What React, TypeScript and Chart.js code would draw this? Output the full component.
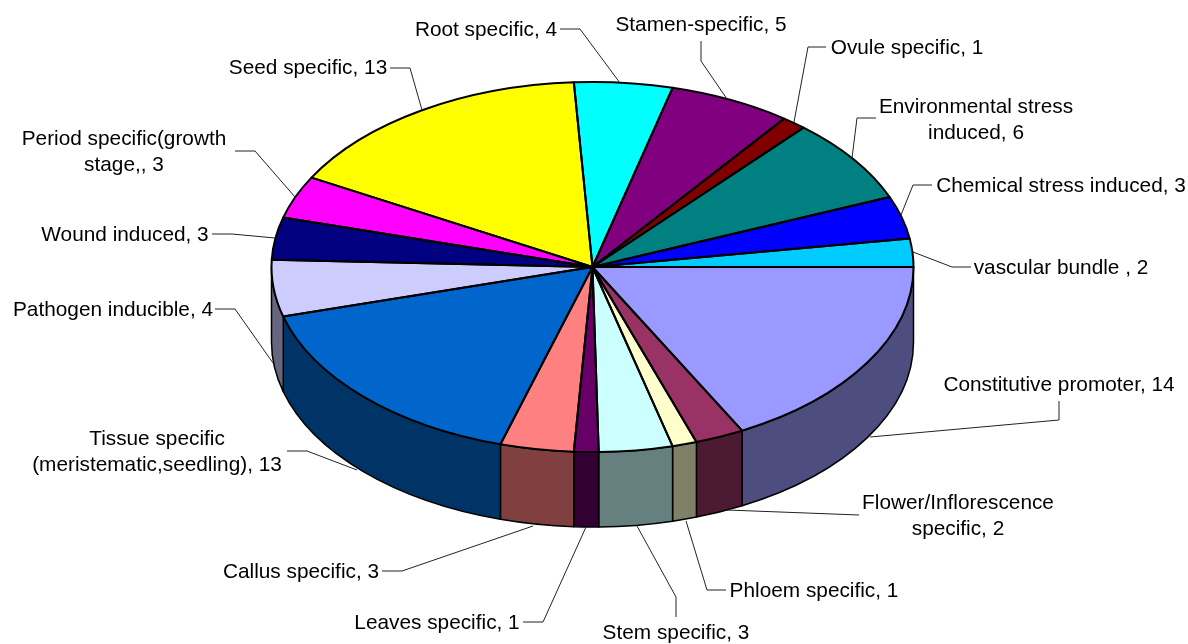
import React, { useEffect, useRef } from "react";
import { Chart, registerables } from "chart.js";

Chart.register(...registerables);

// ---- data ----
const categories = [
  "Constitutive promoter", "Flower/Inflorescence specific", "Phloem specific", "Stem specific",
  "Leaves specific", "Callus specific", "Tissue specific (meristematic,seedling)", "Pathogen inducible",
  "Wound induced", "Period specific(growth stage,", "Seed specific", "Root specific", "Stamen-specific",
  "Ovule specific", "Environmental stress induced", "Chemical stress induced", "vascular bundle ",
];
const seriesValues = [14, 2, 1, 3, 1, 3, 13, 4, 3, 3, 13, 4, 5, 1, 6, 3, 2];
const sliceColors = [
  "#9999FF", "#993366", "#FFFFCC", "#CCFFFF", "#660066", "#FF8080", "#0066CC", "#CCCCFF",
  "#000080", "#FF00FF", "#FFFF00", "#00FFFF", "#800080", "#800000", "#008080", "#0000FF", "#00CCFF",
];
const labelLines = [
  ["Constitutive promoter, 14"],
  ["Flower/Inflorescence", "specific, 2"],
  ["Phloem specific, 1"],
  ["Stem specific, 3"],
  ["Leaves specific, 1"],
  ["Callus specific, 3"],
  ["Tissue specific", "(meristematic,seedling), 13"],
  ["Pathogen inducible, 4"],
  ["Wound induced, 3"],
  ["Period specific(growth", "stage,, 3"],
  ["Seed specific, 13"],
  ["Root specific, 4"],
  ["Stamen-specific, 5"],
  ["Ovule specific, 1"],
  ["Environmental stress", "induced, 6"],
  ["Chemical stress induced, 3"],
  ["vascular bundle , 2"],
];

// ---- layout (annotation placement, in the same order as the slices) ----
const labelCenters = [
  [1059, 385], [958, 516], [814, 591], [676, 633], [437, 623], [301, 572], [157, 452], [113, 310],
  [125, 235], [124, 152], [308, 68], [486, 30], [701, 25], [907, 48], [976, 120], [1061, 186], [1061, 268],
];
const leaderPaths = [
  [[1059, 401], [1059, 420], [870, 437]],
  [[859, 515], [727, 510]],
  [[726, 590], [707, 590], [686, 521]],
  [[676, 617], [676, 597], [637, 526]],
  [[523, 622], [543, 622], [586, 527]],
  [[382, 571], [402, 571], [533, 526]],
  [[287, 451], [307, 451], [357, 470]],
  [[215, 309], [235, 309], [273, 363]],
  [[212, 234], [232, 234], [275, 238]],
  [[235, 151], [255, 151], [295, 197]],
  [[390, 68], [410, 68], [422, 110]],
  [[560, 29], [580, 29], [620, 83]],
  [[701, 41], [701, 61], [727, 99]],
  [[826, 47], [808, 47], [794, 122]],
  [[876, 118], [857, 118], [852, 158]],
  [[932, 185], [913, 185], [901, 215]],
  [[971, 267], [952, 267], [913, 252]],
];
const CX = 592.5;
const CY = 267;
const RX = 321;
const RY = 185;
const DEPTH = 75;
const FONT = '20.8px "Liberation Sans", Arial, sans-serif';
const LINE_HEIGHT = 26;

function darken(hex: string) {
  const n = parseInt(hex.slice(1), 16);
  const c = [(n >> 16) & 255, (n >> 8) & 255, n & 255].map((v) => Math.round(v / 2));
  return `rgb(${c[0]},${c[1]},${c[2]})`;
}

const pie3d = {
  id: "pie3d",
  beforeDatasetsDraw(chart: any) {
    const ctx = chart.ctx;
    const arcs = chart.getDatasetMeta(0).data;
    ctx.save();
    ctx.strokeStyle = "#000";
    ctx.lineWidth = 1.5;
    ctx.lineJoin = "round";
    arcs.forEach((arc: any, i: number) => {
      const { startAngle, endAngle } = arc.getProps(["startAngle", "endAngle"], true);
      const a0 = Math.max(startAngle, 0);
      const a1 = Math.min(endAngle, Math.PI);
      if (a1 <= a0) return;
      ctx.beginPath();
      ctx.ellipse(CX, CY, RX, RY, 0, a0, a1, false);
      ctx.ellipse(CX, CY + DEPTH, RX, RY, 0, a1, a0, true);
      ctx.closePath();
      ctx.fillStyle = darken(sliceColors[i]);
      ctx.fill();
      ctx.stroke();
    });
    ctx.restore();
    // the library's arcs are drawn flattened onto the top face
    const first = arcs[0].getProps(["x", "y", "outerRadius"], true);
    ctx.save();
    ctx.translate(CX, CY);
    ctx.scale(RX / first.outerRadius, RY / first.outerRadius);
    ctx.translate(-first.x, -first.y);
  },
  afterDatasetsDraw(chart: any) {
    const ctx = chart.ctx;
    ctx.restore();
    const arcs = chart.getDatasetMeta(0).data;
    ctx.save();
    ctx.strokeStyle = "#000";
    ctx.lineWidth = 2;
    ctx.lineJoin = "round";
    arcs.forEach((arc: any) => {
      const { startAngle, endAngle } = arc.getProps(["startAngle", "endAngle"], true);
      ctx.beginPath();
      ctx.moveTo(CX, CY);
      ctx.ellipse(CX, CY, RX, RY, 0, startAngle, endAngle, false);
      ctx.closePath();
      ctx.stroke();
    });
    ctx.strokeStyle = "#222";
    ctx.lineWidth = 1;
    leaderPaths.forEach((path) => {
      ctx.beginPath();
      path.forEach(([x, y], k) => (k ? ctx.lineTo(x, y) : ctx.moveTo(x, y)));
      ctx.stroke();
    });
    ctx.fillStyle = "#000";
    ctx.font = FONT;
    ctx.textAlign = "center";
    ctx.textBaseline = "middle";
    labelLines.forEach((lines, i) => {
      const [x, y] = labelCenters[i];
      lines.forEach((t, k) => {
        ctx.fillText(t, x, y + (k - (lines.length - 1) / 2) * LINE_HEIGHT);
      });
    });
    ctx.restore();
  },
};

export default function App() {
  const ref = useRef<HTMLCanvasElement>(null);
  useEffect(() => {
    const chart = new Chart(ref.current!, {
      type: "pie",
      data: {
        labels: categories,
        datasets: [{ data: seriesValues, backgroundColor: sliceColors, borderWidth: 0 }],
      },
      options: {
        responsive: false,
        animation: false,
        rotation: 90,
        layout: { padding: { top: 1, bottom: 1, left: 0, right: 3 } },
        plugins: { legend: { display: false }, tooltip: { enabled: false } },
      },
      plugins: [pie3d],
    } as any);
    return () => chart.destroy();
  }, []);
  return (
    <canvas
      ref={ref}
      width={1188}
      height={644}
      style={{ position: "absolute", left: 0, top: 0, display: "block" }}
    />
  );
}
